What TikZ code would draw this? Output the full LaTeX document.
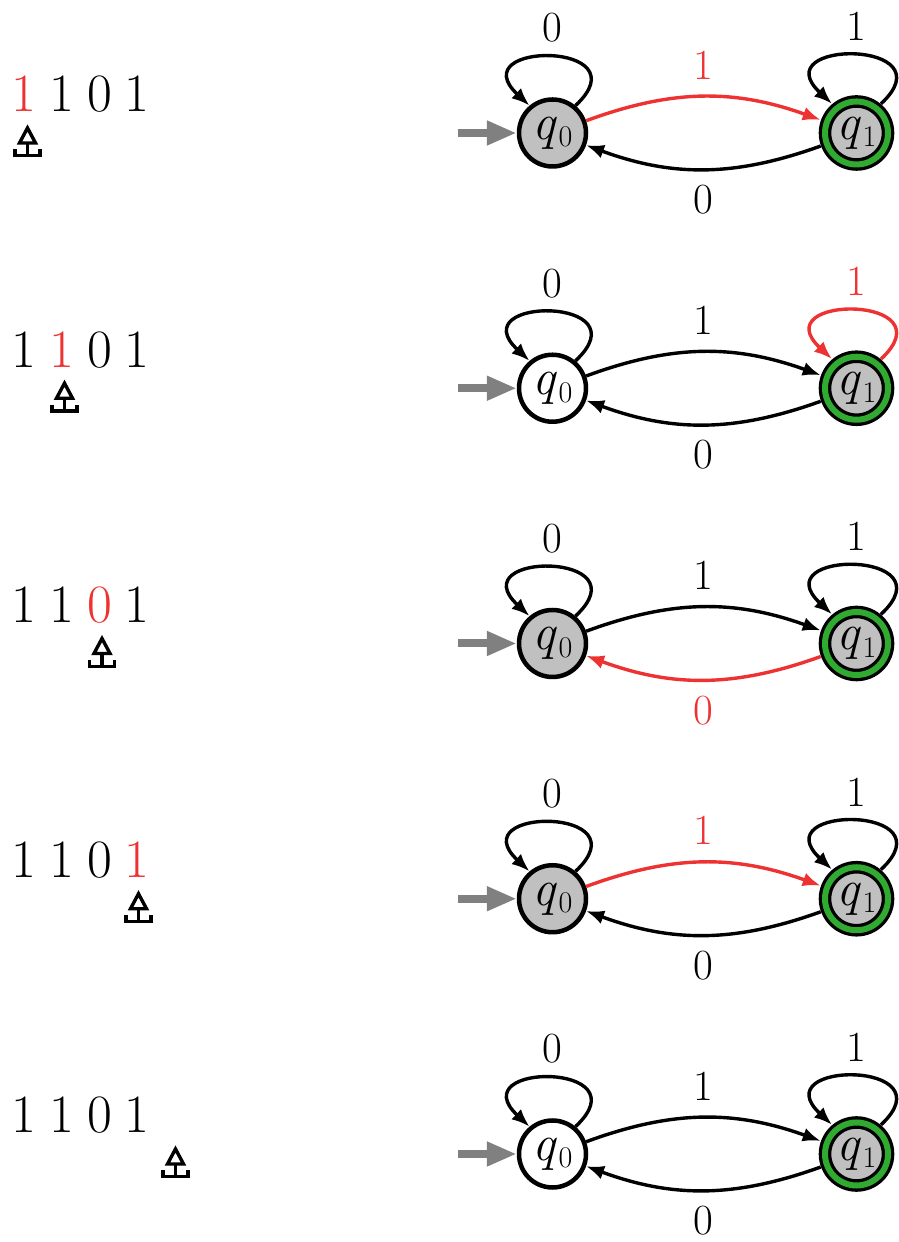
\documentclass[tikz,border=0pt]{standalone}
\usepackage{fontspec}
\usetikzlibrary{arrows.meta,calc}
\definecolor{hl}{RGB}{238,50,50}
\definecolor{accgreen}{RGB}{48,170,48}
\definecolor{stfill}{RGB}{192,192,192}
\definecolor{initc}{RGB}{128,128,128}
\newcommand{\qsub}[1]{\textit{q}\kern1pt\raisebox{-7.5pt}{\fontsize{30}{30}\selectfont #1}}
\tikzset{
  st/.style={circle, draw=black, line width=4.5pt, minimum size=67pt, inner sep=0pt,
    font=\fontsize{51}{51}\selectfont},
  accst/.style={circle, draw=black, line width=3.3pt, double=accgreen, double distance=6pt,
    fill=stfill, minimum size=63pt, inner sep=0pt, outer sep=6.6pt,
    font=\fontsize{51}{51}\selectfont},
  ed/.style={line width=3.4pt, -{Latex[length=18pt,width=14pt]}},
  initarr/.style={line width=8pt, draw=initc, -{Triangle[length=30pt,width=23pt]}},
  lbl/.style={inner sep=0pt, font=\fontsize{43}{43}\selectfont},
  dig/.style={inner sep=0pt, anchor=base, font=\fontsize{54}{54}\selectfont},
  head/.pic={
    \draw[line width=3.4pt, miter limit=10] (0,5) -- (-8,-10) -- (8,-10) -- cycle;
    \draw[line width=3.4pt] (0,-10) -- (0,-22.8);
    \draw[line width=3.4pt] (-12.5,-16.5) -- (-12.5,-22.8) -- (12.5,-22.8) -- (12.5,-16.5);
  }
}
\begin{document}
\begin{tikzpicture}[x=1pt,y=1pt]
\useasboundingbox (0,0) rectangle (899,1242);
% ---------- row 1
\begin{scope}[yshift=1109pt]
  \node[dig, text=hl] (a1) at (24,21) {1};
  \node[dig] (a2) at (61.7,21) {1};
  \node[dig] (a3) at (99.4,21) {0};
  \node[dig] (a4) at (137.1,21) {1};
  \pic (ah) at (27.5,0) {head};
  \node[st, fill=stfill] (aq0) at (552.5,0) {\qsub{0}};
  \node[accst] (aq1) at (856.5,0) {\qsub{1}};
  \coordinate (ai) at (458,0);
  \draw[initarr] (ai) -- (aq0);
  \draw[ed] (aq0.50) .. controls +(43:95) and +(137:95) .. node[lbl, midway, yshift=29pt] {0} (aq0.130);
  \draw[ed] (aq1.50) .. controls +(43:95) and +(137:95) .. node[lbl, midway, yshift=29pt] {1} (aq1.130);
  \draw[ed, hl] (aq0) to[bend left=20] node[lbl, midway, yshift=32pt, text=hl] {1} (aq1);
  \draw[ed] (aq1) to[bend left=20] node[lbl, midway, yshift=-30.5pt] {0} (aq0);
\end{scope}
% ---------- row 2
\begin{scope}[yshift=853.75pt]
  \node[dig] (b1) at (24,21) {1};
  \node[dig, text=hl] (b2) at (61.7,21) {1};
  \node[dig] (b3) at (99.4,21) {0};
  \node[dig] (b4) at (137.1,21) {1};
  \pic (bh) at (64.5,0) {head};
  \node[st, fill=white] (bq0) at (552.5,0) {\qsub{0}};
  \node[accst] (bq1) at (856.5,0) {\qsub{1}};
  \coordinate (bi) at (458,0);
  \draw[initarr] (bi) -- (bq0);
  \draw[ed] (bq0.50) .. controls +(43:95) and +(137:95) .. node[lbl, midway, yshift=29pt] {0} (bq0.130);
  \draw[ed, hl] (bq1.50) .. controls +(43:95) and +(137:95) .. node[lbl, midway, yshift=29pt, text=hl] {1} (bq1.130);
  \draw[ed] (bq0) to[bend left=20] node[lbl, midway, yshift=32pt] {1} (bq1);
  \draw[ed] (bq1) to[bend left=20] node[lbl, midway, yshift=-30.5pt] {0} (bq0);
\end{scope}
% ---------- row 3
\begin{scope}[yshift=598.5pt]
  \node[dig] (c1) at (24,21) {1};
  \node[dig] (c2) at (61.7,21) {1};
  \node[dig, text=hl] (c3) at (99.4,21) {0};
  \node[dig] (c4) at (137.1,21) {1};
  \pic (ch) at (102,0) {head};
  \node[st, fill=stfill] (cq0) at (552.5,0) {\qsub{0}};
  \node[accst] (cq1) at (856.5,0) {\qsub{1}};
  \coordinate (ci) at (458,0);
  \draw[initarr] (ci) -- (cq0);
  \draw[ed] (cq0.50) .. controls +(43:95) and +(137:95) .. node[lbl, midway, yshift=29pt] {0} (cq0.130);
  \draw[ed] (cq1.50) .. controls +(43:95) and +(137:95) .. node[lbl, midway, yshift=29pt] {1} (cq1.130);
  \draw[ed] (cq0) to[bend left=20] node[lbl, midway, yshift=32pt] {1} (cq1);
  \draw[ed, hl] (cq1) to[bend left=20] node[lbl, midway, yshift=-30.5pt, text=hl] {0} (cq0);
\end{scope}
% ---------- row 4
\begin{scope}[yshift=343.25pt]
  \node[dig] (d1) at (24,21) {1};
  \node[dig] (d2) at (61.7,21) {1};
  \node[dig] (d3) at (99.4,21) {0};
  \node[dig, text=hl] (d4) at (137.1,21) {1};
  \pic (dh) at (138.5,0) {head};
  \node[st, fill=stfill] (dq0) at (552.5,0) {\qsub{0}};
  \node[accst] (dq1) at (856.5,0) {\qsub{1}};
  \coordinate (di) at (458,0);
  \draw[initarr] (di) -- (dq0);
  \draw[ed] (dq0.50) .. controls +(43:95) and +(137:95) .. node[lbl, midway, yshift=29pt] {0} (dq0.130);
  \draw[ed] (dq1.50) .. controls +(43:95) and +(137:95) .. node[lbl, midway, yshift=29pt] {1} (dq1.130);
  \draw[ed, hl] (dq0) to[bend left=20] node[lbl, midway, yshift=32pt, text=hl] {1} (dq1);
  \draw[ed] (dq1) to[bend left=20] node[lbl, midway, yshift=-30.5pt] {0} (dq0);
\end{scope}
% ---------- row 5
\begin{scope}[yshift=88pt]
  \node[dig] (e1) at (24,21) {1};
  \node[dig] (e2) at (61.7,21) {1};
  \node[dig] (e3) at (99.4,21) {0};
  \node[dig] (e4) at (137.1,21) {1};
  \pic (eh) at (175.5,0) {head};
  \node[st, fill=white] (eq0) at (552.5,0) {\qsub{0}};
  \node[accst] (eq1) at (856.5,0) {\qsub{1}};
  \coordinate (ei) at (458,0);
  \draw[initarr] (ei) -- (eq0);
  \draw[ed] (eq0.50) .. controls +(43:95) and +(137:95) .. node[lbl, midway, yshift=29pt] {0} (eq0.130);
  \draw[ed] (eq1.50) .. controls +(43:95) and +(137:95) .. node[lbl, midway, yshift=29pt] {1} (eq1.130);
  \draw[ed] (eq0) to[bend left=20] node[lbl, midway, yshift=32pt] {1} (eq1);
  \draw[ed] (eq1) to[bend left=20] node[lbl, midway, yshift=-30.5pt] {0} (eq0);
\end{scope}
\end{tikzpicture}
\end{document}
